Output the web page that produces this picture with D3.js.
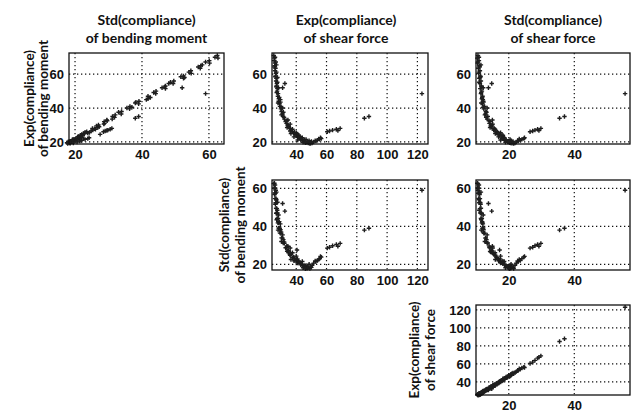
<!DOCTYPE html>
<html><head><meta charset="utf-8">
<script src="https://cdn.jsdelivr.net/npm/d3@7"></script>
<style>body{margin:0;background:#fff}</style>
</head><body><svg id="c" width="635" height="415"></svg>
<script>
// Observations (one entry per design), four variables
const expBM = [71,69.5,68,66.5,65,63.5,62,60.5,59,57.5,56,54.5,53,51.5,50,48.5,47,45.5,44,42.5,41,39.5,38,36.5,35,33.5,32,31,30,29,28,27,26,25.2,24.4,23.6,22.9,22.2,21.6,21.0,20.5,20.0,19.6,19.3,19.0,19.4,20.0,20.5,21.0,21.5,22.0,27.5,25.5,24.0,22.5,21.5,20.8,20.3,33.0,30.5,40.0,45.0,52.0,58.0,65.5,54.5,26.0,26.5,27.0,27.5,28.0,26.8,34.0,35.0,48.5,52.0,24.5,23.0,21.2,19.8,25.0,28.5,36.0,43.0,
  70.0,67.2,64.2,61.2,58.5,55.2,52.5,49.2,46.2,43.5,40.5,37.5,34.5,32.5,29.5,27.8,26.5,25.8,24.8,23.2,22.0,21.3,20.2,19.5,19.2,20.8,21.8,22.5];
const stdBM = [62.5,62.7,60.1,60.2,57.6,57.4,54.6,54.7,52.4,52.4,49.5,49.3,47.0,47.0,44.2,44.1,41.8,41.8,39.1,39.0,36.4,36.3,33.9,33.8,31.2,31.1,28.7,28.8,27.0,27.2,25.2,25.3,23.5,23.8,22.0,22.3,20.8,21.0,19.7,19.9,18.6,19.0,17.9,18.3,17.8,19.5,20.6,21.4,22.0,23.0,23.8,26.1,24.3,21.6,21.5,19.4,20.0,18.4,29.5,28.6,35.5,41.3,46.0,52.7,58.0,48.0,28.5,29.0,29.8,30.5,31.0,29.5,38.0,39.0,59.0,52.0,27.5,21.8,20.6,18.2,22.5,26.8,32.0,38.0,
  61.8,59.0,56.8,54.0,51.6,48.5,46.8,43.5,42.5,38.2,37.0,33.0,31.8,29.6,26.4,25.8,24.8,23.0,22.8,21.0,20.2,19.2,18.0,17.6,18.6,21.8,22.6,24.2];
const expSF = [25.2,25.6,25.4,26.0,25.8,26.3,26.0,26.6,26.4,26.9,26.7,27.2,27.0,27.6,27.4,28.0,27.9,28.5,28.4,29.1,29.3,29.9,30.3,31.0,31.4,32.2,33.0,33.6,34.3,35.0,35.8,36.6,37.5,38.3,39.2,40.1,41.0,42.0,43.0,44.0,45.0,46.0,47.0,48.0,49.0,50.5,51.5,53.0,54.0,55.5,56.5,37.5,40.0,41.5,44.0,46.5,48.5,50.0,34.5,36.0,31.0,29.5,28.3,27.6,26.9,32.5,60.5,62.0,64.0,66.5,69.0,67.5,85.0,88.0,123.0,31.0,40.5,38.5,41.0,44.5,36.5,34.0,30.2,28.0,
  26.0,26.5,25.7,26.9,26.2,27.5,26.8,27.1,28.8,29.6,30.0,31.5,32.0,33.8,34.8,36.2,36.0,38.8,40.8,42.5,43.5,45.5,47.5,46.0,49.5,52.5,54.8,56.0];
const stdSF = [10.6,10.4,10.9,10.5,11.0,10.7,11.2,10.8,11.3,11.0,11.5,11.2,11.6,11.3,11.8,11.5,12.0,11.8,12.2,12.0,12.6,12.4,13.0,12.9,13.6,13.4,14.3,14.1,14.9,14.7,15.6,15.4,16.4,16.2,17.1,17.0,17.9,17.9,18.8,18.7,19.6,19.7,20.6,20.6,21.5,21.9,22.3,22.9,23.5,24.0,24.6,15.8,17.5,18.2,18.6,20.4,20.7,21.3,15.0,15.1,13.4,12.1,12.2,11.2,11.5,14.8,26.5,27.3,28.0,28.8,29.8,29.2,35.5,37.0,55.5,13.8,17.2,16.9,17.5,19.0,15.9,14.3,12.7,11.6,
  10.9,10.6,11.1,10.9,11.4,11.0,11.7,11.6,11.9,12.3,12.2,13.2,13.1,14.0,14.5,15.2,15.9,16.6,17.4,18.3,18.2,19.2,20.0,20.2,21.0,22.7,23.2,24.8];

// Axis titles and ticks
const colTitles = [["Std(compliance)","of bending moment"],["Exp(compliance)","of shear force"],["Std(compliance)","of shear force"]];
const rowTitles = [["Exp(compliance)","of bending moment"],["Std(compliance)","of bending moment"],["Exp(compliance)","of shear force"]];
const colDomains = [[18.2,64.5],[24,127],[10,57]];
const rowDomains = [[18.8,72.5],[17,64.4],[25.5,125.5]];
const colTicks = [[20,40,60],[40,60,80,100,120],[20,40]];
const rowTicks = [[20,40,60],[20,40,60],[40,60,80,100,120]];

const colVars = [stdBM, expSF, stdSF];
const rowVars = [expBM, stdBM, expSF];
const panels = [[0,0],[0,1],[0,2],[1,1],[1,2],[2,2]];

// layout
const colX = [[69,224],[272,428],[476,630]];
const rowY = [[53,144],[180,270],[305,395]];

const svg = d3.select("#c");
const tickFont = "'Liberation Sans', Arial, sans-serif";
const titleFont = "Lato, 'Open Sans', sans-serif";

panels.forEach(([r,c]) => {
  const x = d3.scaleLinear().domain(colDomains[c]).range(colX[c]);
  const y = d3.scaleLinear().domain(rowDomains[r]).range([rowY[r][1], rowY[r][0]]);
  const g = svg.append("g");
  const [x0,x1] = colX[c], [y0,y1] = rowY[r];
  // grid
  g.selectAll("line.gx").data(colTicks[c]).join("line")
    .attr("x1", d=>x(d)).attr("x2", d=>x(d)).attr("y1", y0).attr("y2", y1)
    .attr("stroke","#111").attr("stroke-width",1.2).attr("stroke-dasharray","1.3,2.7");
  g.selectAll("line.gy").data(rowTicks[r]).join("line")
    .attr("y1", d=>y(d)).attr("y2", d=>y(d)).attr("x1", x0).attr("x2", x1)
    .attr("stroke","#111").attr("stroke-width",1.2).attr("stroke-dasharray","1.3,2.7");
  // axes
  const ax = d3.axisBottom(x).tickValues(colTicks[c]).tickSize(0).tickPadding(6);
  const ay = d3.axisLeft(y).tickValues(rowTicks[r]).tickSize(0).tickPadding(5);
  const gx = g.append("g").attr("transform",`translate(0,${y1})`).call(ax);
  const gy = g.append("g").attr("transform",`translate(${x0},0)`).call(ay);
  [gx,gy].forEach(a => {
    a.select(".domain").remove();
    a.selectAll("text").attr("font-family",tickFont).attr("font-weight","bold")
      .attr("font-size",13).attr("fill","#111");
  });
  // points
  const xs = colVars[c], ys = rowVars[r];
  g.selectAll("path.pt").data(d3.range(xs.length)).join("path")
    .attr("transform", i => `translate(${x(xs[i])},${y(ys[i])})`)
    .attr("d","M-2.2,0H2.2M0,-2.2V2.2")
    .attr("stroke","#1e1e1e").attr("stroke-width",1.4).attr("fill","none");
  // box
  g.append("rect").attr("x",x0).attr("y",y0).attr("width",x1-x0).attr("height",y1-y0)
    .attr("fill","none").attr("stroke","#111").attr("stroke-width",1.3);
});

// column titles
colTitles.forEach((t,c) => {
  const cx = c===1 ? 346 : (colX[c][0]+colX[c][1])/2;
  t.forEach((s,k) => svg.append("text").attr("x",cx).attr("y",25+k*18)
    .attr("text-anchor","middle").attr("font-family",titleFont).attr("font-weight","bold")
    .attr("font-size",14).attr("fill","#111").text(s));
});
// row titles
const rowLabelX = [[33.5,48],[228.5,245],[418.5,434.5]];
rowTitles.forEach((t,r) => {
  const cy = (rowY[r][0]+rowY[r][1])/2;
  t.forEach((s,k) => svg.append("text")
    .attr("transform",`translate(${rowLabelX[r][k]},${cy}) rotate(-90)`)
    .attr("text-anchor","middle").attr("font-family",titleFont).attr("font-weight","bold")
    .attr("font-size",13.5).attr("fill","#111").text(s));
});
</script></body></html>
